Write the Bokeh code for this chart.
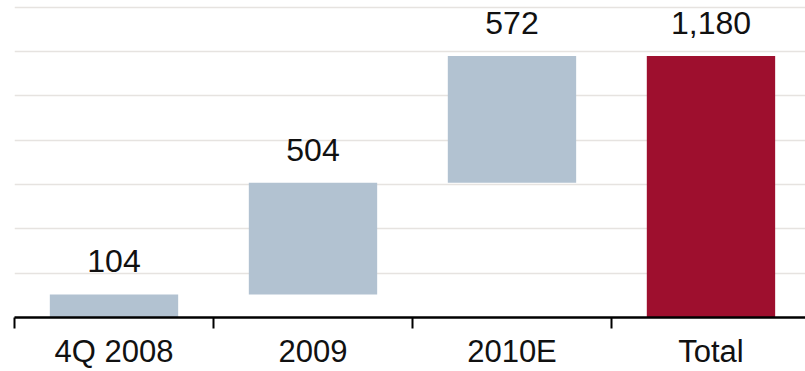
from bokeh.plotting import figure
from bokeh.models import ColumnDataSource, FixedTicker, Range1d
from bokeh.embed import file_html
from bokeh.resources import INLINE
from bokeh.core.properties import value

# Waterfall: cumulative build-up to a total
categories = ["4Q 2008", "2009", "2010E", "Total"]
increments = [104, 504, 572, 1180]
labels = ["104", "504", "572", "1,180"]
is_total = [False, False, False, True]

bottoms, tops = [], []
running = 0
for inc, tot in zip(increments, is_total):
    if tot:
        bottoms.append(0)
        tops.append(inc)
    else:
        bottoms.append(running)
        tops.append(running + inc)
        running += inc

centers = [i + 0.5 for i in range(len(categories))]
colors = ["#9E0F2E" if t else "#B2C2D1" for t in is_total]

src = ColumnDataSource(dict(x=centers, bottom=bottoms, top=tops,
                            label=labels, color=colors))

p = figure(width=805, height=371, output_backend="svg", toolbar_location=None,
           x_range=Range1d(0, 3.975), y_range=Range1d(0, 1431),
           min_border_left=14, min_border_right=0, min_border_top=0,
           min_border_bottom=0)
p.outline_line_color = None
p.background_fill_color = "white"

p.vbar(x="x", bottom="bottom", top="top", width=0.645, color="color",
       line_color=None, source=src)

p.text(x="x", y="top", text="label", source=src, y_offset=-33,
       text_align="center", text_baseline="alphabetic",
       text_font=value("Liberation Sans"), text_font_size="32px",
       text_color="#111111")

p.yaxis.visible = False
p.ygrid.ticker = FixedTicker(ticks=[200, 400, 600, 800, 1000, 1200, 1400])
p.ygrid.grid_line_color = "#E6E3E0"
p.ygrid.grid_line_width = 1.5
p.xgrid.visible = False

ax = p.xaxis[0]
ax.ticker = FixedTicker(ticks=centers, minor_ticks=[0, 1, 2, 3, 4])
ax.major_label_overrides = {c: lab for c, lab in zip(centers, categories)}
ax.major_tick_out = 0
ax.major_tick_in = 0
ax.minor_tick_out = 11
ax.minor_tick_in = 0
ax.minor_tick_line_color = "black"
ax.minor_tick_line_width = 2
ax.axis_line_color = "black"
ax.axis_line_width = 2.5
ax.major_label_standoff = 5
ax.major_label_text_font = "Liberation Sans"
ax.major_label_text_font_size = "31px"
ax.major_label_text_color = "#111111"

open("out.html", "w").write(file_html(p, INLINE))
